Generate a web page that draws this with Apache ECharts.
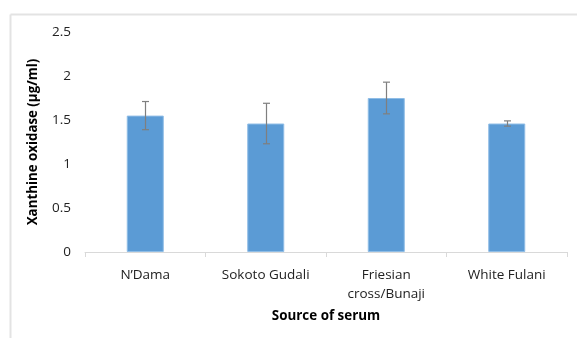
<!DOCTYPE html>
<html><head><meta charset="utf-8">
<script src="https://cdn.jsdelivr.net/npm/echarts@6/dist/echarts.min.js"></script>
<style>html,body{margin:0;padding:0;background:#fff}#c{width:577px;height:338px}</style>
</head><body><div id="c"></div>
<script>
const categories = ["N\u2019Dama", "Sokoto Gudali", "Friesian\ncross/Bunaji", "White Fulani"];
const means = [1.55, 1.46, 1.75, 1.46];
const errors = [0.16, 0.23, 0.18, 0.03];
const yTicks = [0, 0.5, 1, 1.5, 2, 2.5];

const chart = echarts.init(document.getElementById('c'));
const font = '"Open Sans", "Noto Sans", sans-serif';
chart.setOption({
  animation: false,
  graphic: [
    {type: 'line', shape: {x1: 10.5, y1: 14.5, x2: 577, y2: 14.5}, style: {stroke: '#e3e3e3', lineWidth: 2}},
    {type: 'line', shape: {x1: 10.5, y1: 14.5, x2: 10.5, y2: 338}, style: {stroke: '#e3e3e3', lineWidth: 2}}
  ],
  grid: {left: 85, right: 10, top: 32, bottom: 86},
  xAxis: {
    type: 'category', data: categories,
    name: 'Source of serum', nameLocation: 'middle', nameGap: 58,
    nameTextStyle: {fontFamily: font, fontWeight: 'bold', fontSize: 13.4, color: '#000'},
    axisLine: {lineStyle: {color: '#d9d9d9'}},
    axisTick: {show: true, length: 5, lineStyle: {color: '#d9d9d9'}},
    axisLabel: {fontFamily: font, fontSize: 13.5, color: '#222', margin: 14, lineHeight: 19}
  },
  yAxis: {
    type: 'value', min: 0, max: 2.5, interval: 0.5,
    name: 'Xanthine oxidase (\u00b5g/ml)', nameLocation: 'middle', nameGap: 45,
    nameTextStyle: {fontFamily: font, fontWeight: 'bold', fontSize: 13.3, color: '#000'},
    splitLine: {show: false},
    axisLine: {show: false}, axisTick: {show: false},
    axisLabel: {fontFamily: font, fontSize: 13.5, color: '#222', margin: 14,
      formatter: v => yTicks.includes(v) ? String(v) : ''}
  },
  series: [
    {
      type: 'bar', data: means, barWidth: 37,
      itemStyle: {color: '#5b9bd5', borderColor: '#8fbde6', borderWidth: 1}
    },
    {
      type: 'custom',
      data: means.map((m, i) => [i, m - errors[i], m + errors[i]]),
      renderItem: function (params, api) {
        const lo = api.coord([api.value(0), api.value(1)]);
        const hi = api.coord([api.value(0), api.value(2)]);
        const x = Math.round(lo[0]) + 0.5;
        const w = 3.5;
        const st = {stroke: '#7f7f7f', lineWidth: 1.2};
        return {type: 'group', children: [
          {type: 'line', shape: {x1: x, y1: hi[1], x2: x, y2: lo[1]}, style: st},
          {type: 'line', shape: {x1: x - w, y1: hi[1], x2: x + w, y2: hi[1]}, style: st},
          {type: 'line', shape: {x1: x - w, y1: lo[1], x2: x + w, y2: lo[1]}, style: st}
        ]};
      },
      z: 5
    }
  ]
});
</script></body></html>
